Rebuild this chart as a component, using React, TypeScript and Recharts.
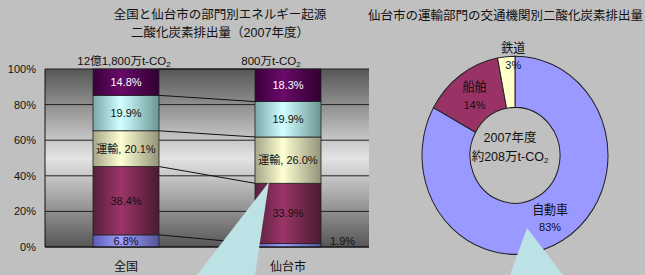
import React from 'react';
import { BarChart, Bar, XAxis, YAxis, CartesianGrid, PieChart, Pie, Cell } from 'recharts';

// ---- data ----
const categories = ['全国', '仙台市'];
const totalLabels = ['12億1,800万t-CO', '800万t-CO'];
const s1 = [6.8, 1.9];
const s2 = [38.4, 33.9];
const s3 = [20.1, 26.0];
const s4 = [19.9, 19.9];
const s5 = [14.8, 18.3];
const seriesPrefix = ['', '', '運輸, ', '', ''];
const yTicks = [0, 20, 40, 60, 80, 100];

const modeNames = ['自動車', '船舶', '鉄道'];
const modeShares = [83, 14, 3];
const centerLines = ['2007年度', '約208万t-CO'];
const titleLeft = ['全国と仙台市の部門別エネルギー起源', '二酸化炭素排出量（2007年度）'];
const titleRight = '仙台市の運輸部門の交通機関別二酸化炭素排出量';

// ---- derived ----
const seriesVals = [s1, s2, s3, s4, s5];
const seriesKeys = ['s1', 's2', 's3', 's4', 's5'];
const cum = seriesVals.map((_, k) =>
  categories.map((__, i) => seriesVals.slice(0, k + 1).reduce((a, s) => a + s[i], 0))
);
const data = categories.map((name, i) => {
  const row: any = { name };
  seriesKeys.forEach((key, k) => (row[key] = seriesVals[k][i]));
  return row;
});
const pieData = modeNames.map((name, i) => ({ name, value: modeShares[i] }));

// ---- style ----
const FONT = "'Liberation Sans', 'Noto Sans CJK JP', sans-serif";
const W = 645;
const H = 275;
const Y_W = 45;
const M_RIGHT = 276;
const BAND = (W - Y_W - M_RIGHT) / categories.length;
const barColors = [
  ['#5c5cb8', '#a0a0ff', '#55559a'],
  ['#55203c', '#9c3568', '#4a1a32'],
  ['#a6a68a', '#ffffd2', '#93937a'],
  ['#7aa8a8', '#d2ffff', '#6a9696'],
  ['#3a003a', '#6a0a6a', '#300030'],
];
const labelColors = ['#111', '#111', '#111', '#111', '#fff'];
const totalDx = [-2, -17];
const pieColors = ['#9999ff', '#993366', '#ffffcc'];
const calloutColor = '#bde2e5';
const PIE_CX = 510;
const PIE_CY = 150;
const PIE_SY = 1.065;

const Co2 = ({ prefix }: { prefix: string }) => (
  <>
    {prefix}
    <tspan dy={3} fontSize={8}>2</tspan>
  </>
);

const makeShape = (k: number) => (props: any) => {
  const { x, y, width, height, index, fill, stroke } = props;
  const v = seriesVals[k][index];
  const low = cum[k][index] - v;
  const ppu = height / v;
  const zero = y + height + low * ppu;
  const cx = x + width / 2;
  const cy = y + height / 2;
  const isOutside = k === 0 && index === 1;
  return (
    <g>
      <rect x={x} y={y} width={width} height={height} fill={fill} stroke={stroke} strokeWidth={0.8} />
      {index === 0 && (
        <line
          x1={x + width}
          y1={y}
          x2={x + BAND}
          y2={zero - cum[k][1] * ppu}
          stroke="#111"
          strokeWidth={1}
        />
      )}
      <text
        x={isOutside ? x + width + 9 : cx}
        y={isOutside ? cy - 4 : cy}
        textAnchor={isOutside ? 'start' : 'middle'}
        dominantBaseline="central"
        fontSize={11}
        fontFamily={FONT}
        fill={labelColors[k]}
      >
        {seriesPrefix[k] + v.toFixed(1) + '%'}
      </text>
      {k === seriesVals.length - 1 && (
        <text
          x={cx + totalDx[index]}
          y={y - 8}
          textAnchor="middle"
          dominantBaseline="central"
          fontSize={11.5}
          fontFamily={FONT}
          fill="#111"
        >
          <Co2 prefix={totalLabels[index]} />
        </text>
      )}
    </g>
  );
};

const RADIAN = Math.PI / 180;
const pieLabelRadius = [null, null, 93];
const pieLabelDx = [0, 0, 7];
const renderPieLabel = (p: any) => {
  const { cx, cy, midAngle, innerRadius, outerRadius, index } = p;
  const r = pieLabelRadius[index] ?? (innerRadius + outerRadius) / 2;
  const x = cx + r * Math.cos(-midAngle * RADIAN) + pieLabelDx[index];
  const y = cy + r * Math.sin(-midAngle * RADIAN);
  return (
    <text x={x} y={y} textAnchor="middle" dominantBaseline="central" fontSize={12} fontFamily={FONT} fill="#111">
      <tspan x={x} y={y - 8}>{modeNames[index]}</tspan>
      <tspan x={x} y={y + 8} fontSize={11}>{modeShares[index] + '%'}</tspan>
    </text>
  );
};

export default function App() {
  return (
    <div
      style={{
        position: 'absolute',
        left: 0,
        top: 0,
        width: W,
        height: H,
        background: '#c0c0c0',
        overflow: 'hidden',
      }}
    >
      <div style={{ position: 'absolute', left: 0, top: 0 }}>
        <BarChart
          width={W}
          height={H}
          data={data}
          margin={{ top: 69, right: M_RIGHT, bottom: 0, left: 0 }}
          barSize={66}
        >
          <defs>
            <linearGradient id="plotBg" x1="0" y1="0" x2="0" y2="1">
              <stop offset="0" stopColor="#565656" />
              <stop offset="0.5" stopColor="#e4e4e4" />
              <stop offset="1" stopColor="#565656" />
            </linearGradient>
            {barColors.map((c, k) => (
              <linearGradient key={k} id={`bg${k}`} x1="0" y1="0" x2="1" y2="0">
                <stop offset="0" stopColor={c[0]} />
                <stop offset="0.42" stopColor={c[1]} />
                <stop offset="1" stopColor={c[2]} />
              </linearGradient>
            ))}
          </defs>
          <CartesianGrid vertical={false} stroke="#222" fill="url(#plotBg)" fillOpacity={1} />
          <XAxis
            dataKey="name"
            height={28}
            axisLine={{ stroke: '#111' }}
            tickLine={false}
            tickSize={0}
            tickMargin={15}
            tick={{ fill: '#111', fontSize: 12, fontFamily: FONT }}
          />
          <YAxis
            domain={[0, 100]}
            ticks={yTicks}
            interval={0}
            tickFormatter={(v: number) => v + '%'}
            width={Y_W}
            axisLine={{ stroke: '#111' }}
            tickLine={false}
            tickSize={0}
            tickMargin={9}
            tick={{ fill: '#111', fontSize: 11, fontFamily: FONT }}
          />
          <YAxis
            yAxisId="r"
            orientation="right"
            domain={[0, 100]}
            width={0}
            tick={false}
            tickLine={false}
            axisLine={{ stroke: '#444' }}
          />
          {seriesKeys.map((key, k) => (
            <Bar
              key={key}
              dataKey={key}
              stackId="a"
              fill={`url(#bg${k})`}
              stroke="#222"
              shape={makeShape(k)}
              isAnimationActive={false}
            />
          ))}
        </BarChart>
      </div>
      <div
        style={{
          position: 'absolute',
          left: 0,
          top: 0,
          transform: `scale(1, ${PIE_SY})`,
          transformOrigin: `${PIE_CX}px ${PIE_CY}px`,
        }}
      >
        <PieChart width={W} height={H}>
          <Pie
            data={pieData}
            dataKey="value"
            cx={PIE_CX}
            cy={PIE_CY}
            innerRadius={45}
            outerRadius={93}
            startAngle={90}
            endAngle={-270}
            stroke="#222"
            strokeWidth={1}
            label={renderPieLabel}
            labelLine={false}
            isAnimationActive={false}
          >
            {pieData.map((d, i) => (
              <Cell key={d.name} fill={pieColors[i]} />
            ))}
          </Pie>
        </PieChart>
      </div>
      <svg
        width={W}
        height={H}
        style={{ position: 'absolute', left: 0, top: 0, pointerEvents: 'none' }}
      >
        <text x={220} y={15} textAnchor="middle" dominantBaseline="central" fontSize={12.5} fontFamily={FONT} fill="#111">
          {titleLeft[0]}
        </text>
        <text x={220} y={33} textAnchor="middle" dominantBaseline="central" fontSize={12.5} fontFamily={FONT} fill="#111">
          {titleLeft[1]}
        </text>
        <text x={368} y={16} textAnchor="start" dominantBaseline="central" fontSize={12.5} fontFamily={FONT} fill="#111">
          {titleRight}
        </text>
        <text x={PIE_CX} y={138} textAnchor="middle" dominantBaseline="central" fontSize={12.5} fontFamily={FONT} fill="#111">
          {centerLines[0]}
        </text>
        <text x={PIE_CX} y={157} textAnchor="middle" dominantBaseline="central" fontSize={12.5} fontFamily={FONT} fill="#111">
          <Co2 prefix={centerLines[1]} />
        </text>
        <polygon points="269,182 197,275 255,275" fill={calloutColor} />
        <polygon points="527,228 510,275 563,275" fill={calloutColor} />
      </svg>
    </div>
  );
}
